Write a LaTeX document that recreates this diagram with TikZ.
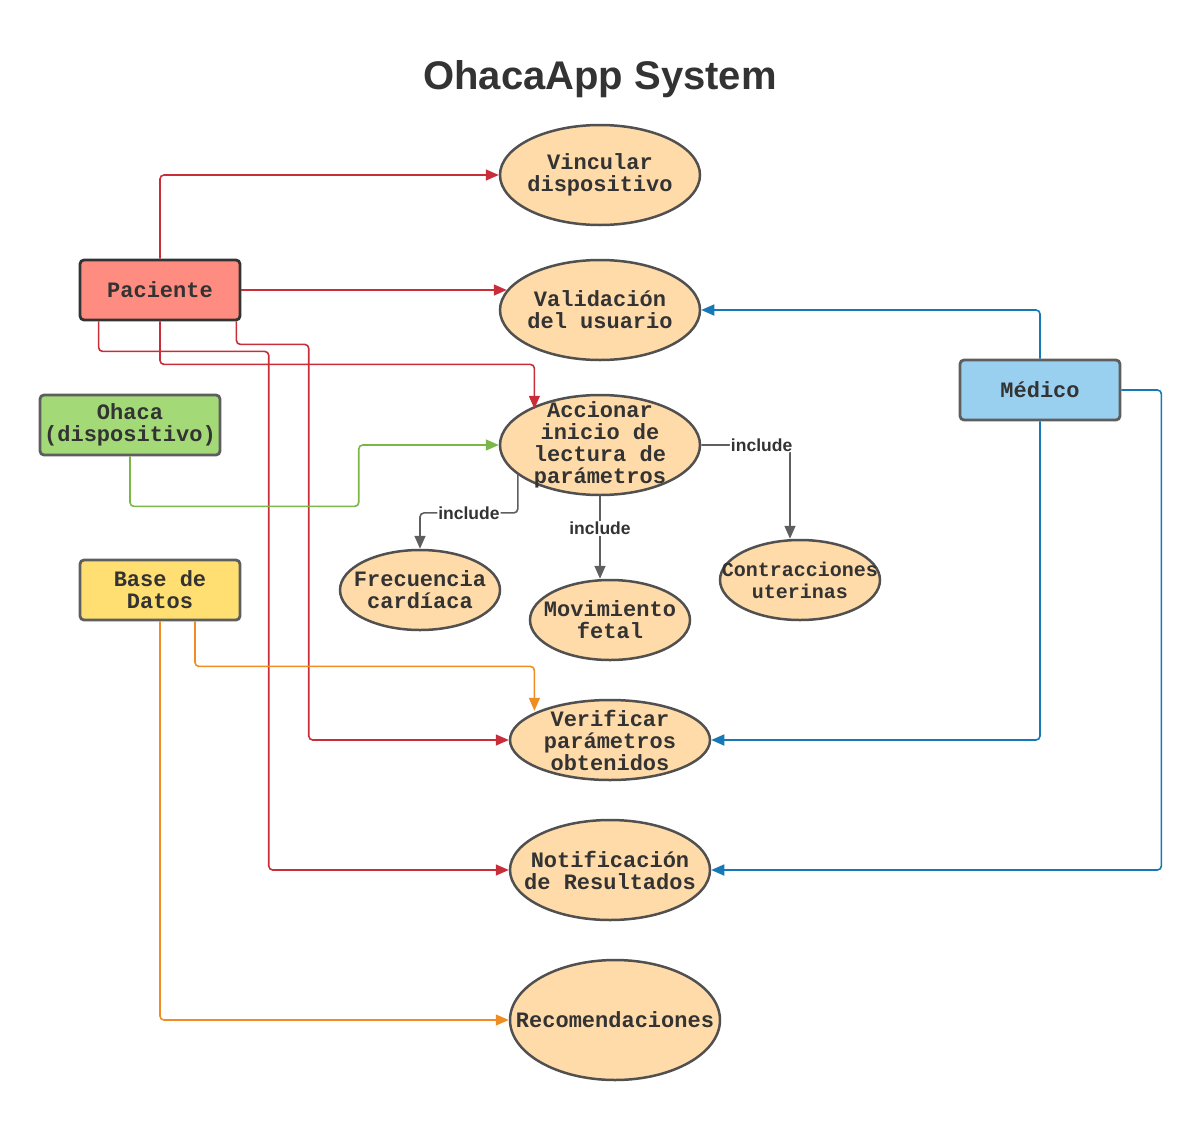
\documentclass[tikz,border=0pt]{standalone}
\usepackage{fontspec}
\setmainfont{Liberation Sans}
\newfontfamily\ucfont{Liberation Mono}
\usetikzlibrary{arrows.meta,shapes.geometric,calc}
\definecolor{PacFill}{RGB}{255,140,128}
\definecolor{OhaFill}{RGB}{163,217,119}
\definecolor{BdFill}{RGB}{255,223,113}
\definecolor{MedFill}{RGB}{153,208,240}
\definecolor{UcFill}{RGB}{255,219,169}
\definecolor{RedLn}{RGB}{201,45,57}
\definecolor{GreenLn}{RGB}{122,182,72}
\definecolor{OrangeLn}{RGB}{239,141,34}
\definecolor{BlueLn}{RGB}{22,120,181}
\definecolor{GrayLn}{RGB}{94,94,94}
\definecolor{Ink}{RGB}{51,51,51}
\newcommand\ucsmall{\fontsize{20}{22}\selectfont}
\tikzset{
  actor/.style={draw=#1, line width=2.8pt, rounded corners=4pt, minimum width=160pt,
    minimum height=60pt, inner sep=0pt, align=center, text=Ink,
    font=\ucfont\bfseries\fontsize{22}{22}\selectfont},
  uctext/.style={align=center, inner sep=0pt, text=Ink,
    font=\ucfont\bfseries\fontsize{22}{22}\selectfont},
  usecase/.style={ellipse, draw=GrayLn!85!black, line width=2.5pt, fill=UcFill, inner sep=0pt,
    label={[uctext]center:#1}},
  link/.style={line width=1.6pt, rounded corners=4pt, -{Triangle[length=13pt,width=11pt]}},
  inclabel/.style={fill=white, inner sep=1pt, text=Ink, font=\bfseries\fontsize{17.5}{18}\selectfont}
}
\begin{document}
\begin{tikzpicture}[x=1pt,y=-1pt]
  \useasboundingbox (0,0) rectangle (1203,1120);
  \node[text=Ink, font=\bfseries\fontsize{40}{42}\selectfont] (title) at (600,79) {OhacaApp System};

  \node[actor=Ink, fill=PacFill] (pac) at (160,290) {Paciente};
  \node[actor=GrayLn, fill=OhaFill, minimum width=180pt] (oha) at (130,425) {Ohaca\\(dispositivo)};
  \node[actor=GrayLn, fill=BdFill] (bd) at (160,590) {Base de\\Datos};
  \node[actor=GrayLn, fill=MedFill] (med) at (1040,390) {Médico};

  \node[usecase={Vincular\\dispositivo}, minimum width=200pt, minimum height=100pt] (vinc) at (600,175) {};
  \node[usecase={Validación\\del usuario}, minimum width=200pt, minimum height=100pt] (vali) at (600,310) {};
  \node[usecase={Accionar\\inicio de\\lectura de\\parámetros}, minimum width=200pt, minimum height=100pt] (acc) at (600,445) {};
  \node[usecase={Frecuencia\\cardíaca}, minimum width=160pt, minimum height=80pt] (fre) at (420,590) {};
  \node[usecase={Movimiento\\fetal}, minimum width=160pt, minimum height=80pt] (mov) at (610,620) {};
  \node[usecase={\ucsmall Contracciones\\\ucsmall uterinas}, minimum width=160pt, minimum height=80pt] (con) at (800,580) {};
  \node[usecase={Verificar\\parámetros\\obtenidos}, minimum width=200pt, minimum height=80pt] (ver) at (610,740) {};
  \node[usecase={Notificación\\de Resultados}, minimum width=200pt, minimum height=100pt] (noti) at (610,870) {};
  \node[usecase={Recomendaciones}, minimum width=210pt, minimum height=120pt] (recom) at (615,1020) {};

  \draw[link, RedLn] (pac.north) |- (vinc.west);
  \draw[link, RedLn] (pac.east) -- ($(pac.east -| vali.west)+(8,0)$);
  \draw[link, RedLn] (pac.south) -- ++(0,43) -| ([xshift=6pt]acc.north west);
  \draw[link, RedLn] ([xshift=20pt]pac.south west) -- ++(0,30) -| ([xshift=-240pt]noti.west) -- (noti.west);
  \draw[link, RedLn] ([xshift=-5pt]pac.south east) -- ++(0,23) -| ([xshift=-200pt]ver.west) -- (ver.west);

  \draw[link, GreenLn] (oha.south) -- ++(0,50) -| ([xshift=-140pt]acc.west) -- (acc.west);

  \draw[link, OrangeLn] ([xshift=35pt]bd.south) -- ++(0,45) -| ([xshift=-4pt]ver.north west);
  \draw[link, OrangeLn] (bd.south) |- (recom.west);

  \draw[link, BlueLn] (med.north) |- (vali.east);
  \draw[link, BlueLn] (med.south) |- (ver.east);
  \draw[link, BlueLn] (med.east) -- ++(40,0) |- (noti.east);

  \draw[link, GrayLn] (acc.200.6) -- ++(0,38) -| node[inclabel, pos=0.25] {include} (fre.north);
  \draw[link, GrayLn] (acc.south) -- node[inclabel, pos=0.39] {include} (acc.south |- mov.north);
  \draw[link, GrayLn] (acc.east) -| node[inclabel, pos=0.34] {include} ([xshift=-10pt]con.north);
\end{tikzpicture}
\end{document}
